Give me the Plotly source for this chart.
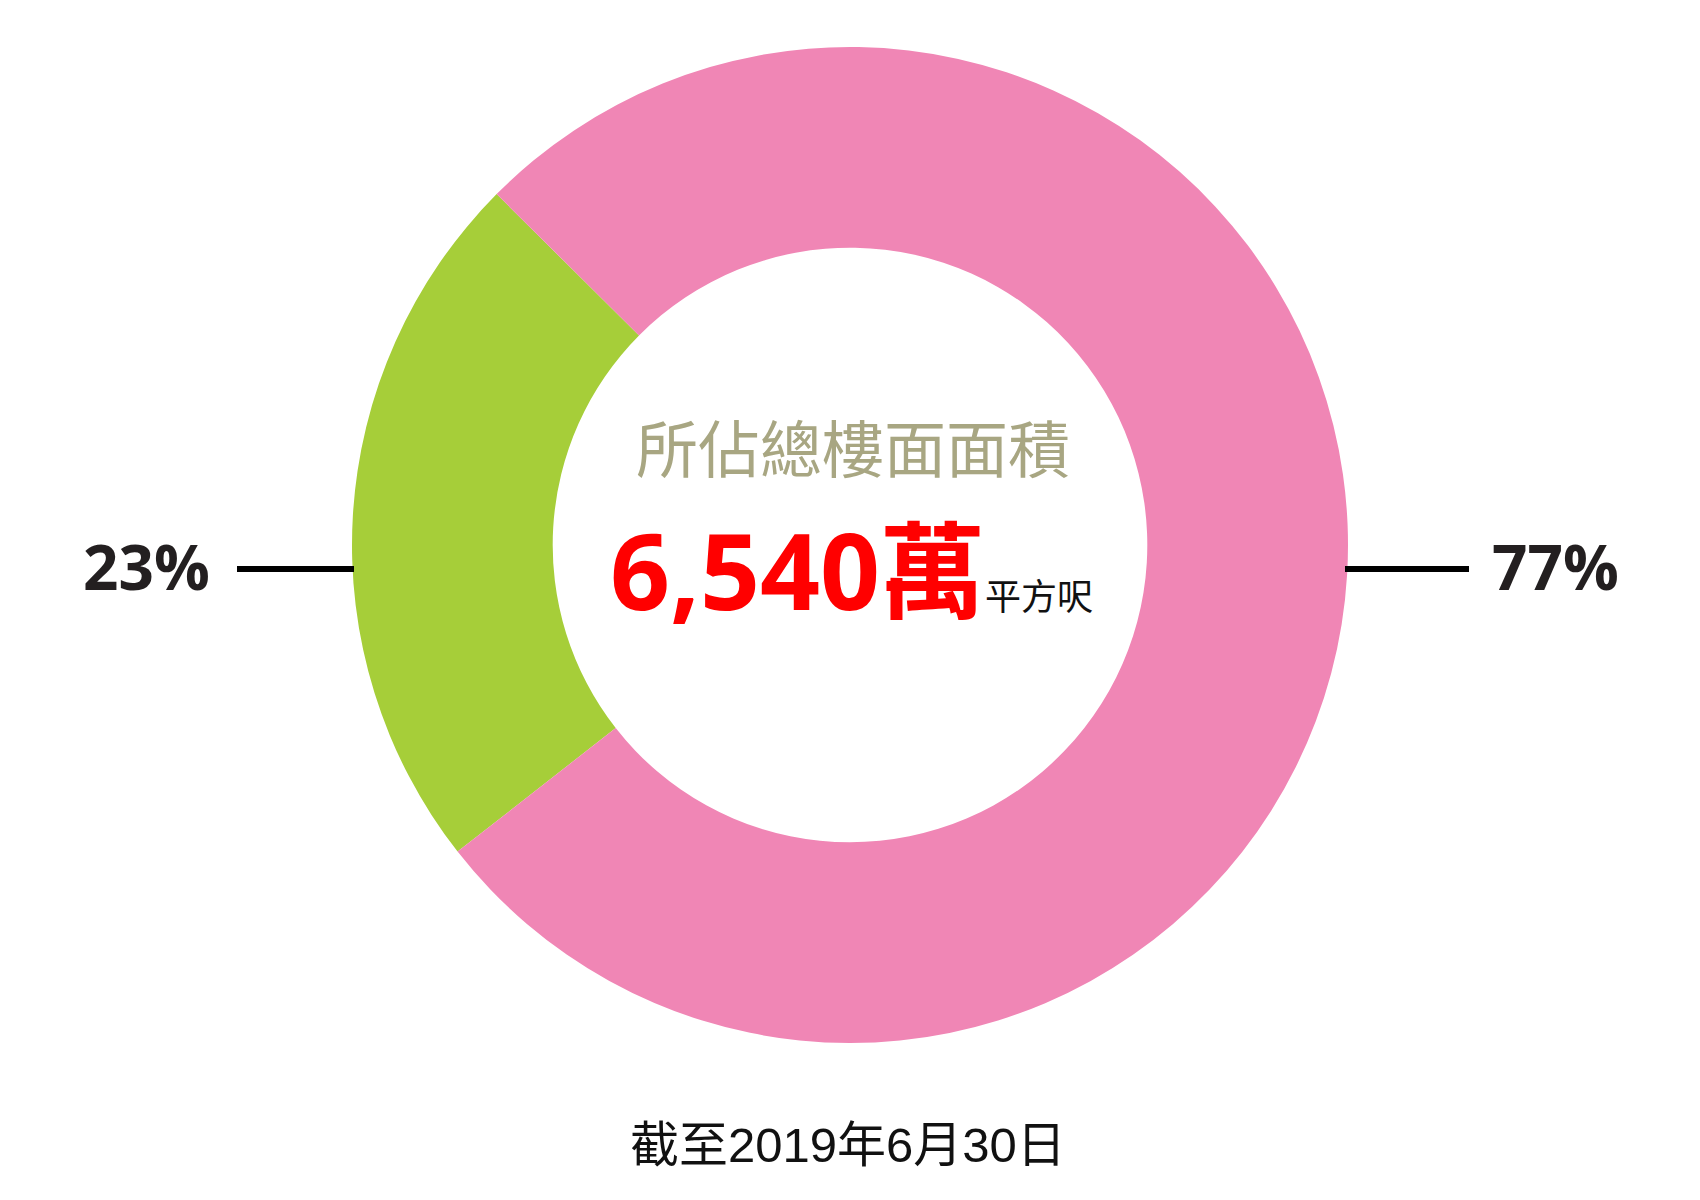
import plotly.graph_objects as go

W, H = 1700, 1200
OFF = 8  # page body margin

# data
labels = ["23%", "77%"]
values = [23, 77]
colors = ["#a6ce39", "#f086b5"]

title_txt = "所佔總樓面面積"
total_txt = "6,540萬"
unit_txt = "平方呎"
date_txt = "截至2019年6月30日"


def px(x):
    return (x - OFF) / W


def py(y):
    return 1 - (y - OFF) / H


cx, cy, rad = 850, 545, 498

fig = go.Figure(go.Pie(
    labels=labels,
    values=values,
    hole=0.597,
    sort=False,
    direction="counterclockwise",
    rotation=-128,
    marker=dict(colors=colors, line=dict(width=0)),
    textinfo="none",
    hoverinfo="label+value",
    showlegend=False,
    domain=dict(x=[px(cx - rad), px(cx + rad)],
                y=[py(cy + rad), py(cy - rad)]),
))

pct_font = dict(family="Open Sans, Liberation Sans, sans-serif", size=62, color="#231f20")
line_y = py(569)

fig.add_annotation(x=px(146), y=py(566), xref="paper", yref="paper",
                   xanchor="center", yanchor="middle",
                   text="<b>%d%%</b>" % values[0], showarrow=False, font=pct_font)
fig.add_annotation(x=px(1555), y=py(566), xref="paper", yref="paper",
                   xanchor="center", yanchor="middle",
                   text="<b>%d%%</b>" % values[1], showarrow=False, font=pct_font)

fig.add_shape(type="line", xref="paper", yref="paper",
              x0=px(237), x1=px(354), y0=line_y, y1=line_y,
              line=dict(color="black", width=6))
fig.add_shape(type="line", xref="paper", yref="paper",
              x0=px(1345), x1=px(1469), y0=line_y, y1=line_y,
              line=dict(color="black", width=6))

# centre text
fig.add_annotation(x=px(853), y=py(446), xref="paper", yref="paper",
                   xanchor="center", yanchor="middle",
                   text=title_txt, showarrow=False,
                   font=dict(family="Noto Sans CJK TC, sans-serif", size=62, color="#a8a682"))
fig.add_annotation(x=px(851), y=py(569), xref="paper", yref="paper",
                   xanchor="center", yanchor="middle",
                   text="<b>%s</b><span style='font-size:36px;color:#111111'>%s</span>" % (total_txt, unit_txt),
                   showarrow=False,
                   font=dict(family="Open Sans, Noto Sans CJK TC, sans-serif", size=105, color="#ff0000"))

fig.add_annotation(x=px(848), y=py(1145), xref="paper", yref="paper",
                   xanchor="center", yanchor="middle",
                   text=date_txt, showarrow=False,
                   font=dict(family="Liberation Sans, Noto Sans CJK TC, sans-serif", size=49, color="#111111"))

fig.update_layout(width=W, height=H, margin=dict(t=0, l=0, r=0, b=0),
                  paper_bgcolor="white", plot_bgcolor="white")

fig.write_html("out.html")
